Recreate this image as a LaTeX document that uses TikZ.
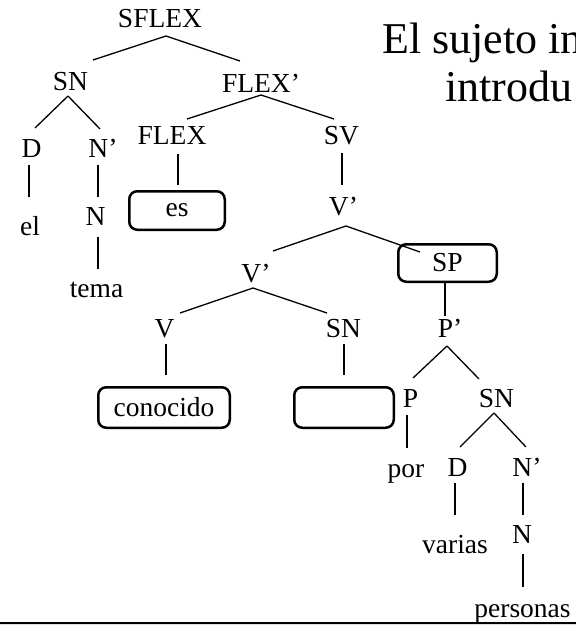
\documentclass[tikz,border=0pt]{standalone}
\usepackage{fontspec}
\setmainfont{Liberation Serif}
\newcommand\treefont{\fontsize{27.5}{33}\selectfont}
\newcommand\titlefont{\fontsize{44}{52}\selectfont}
\tikzset{
  lab/.style={inner sep=0pt, anchor=base, font=\treefont},
  wordbox/.style={draw, line width=2.5pt, rounded corners=8pt, inner sep=0pt, font=\treefont},
  edge/.style={line width=1.3pt},
}
\begin{document}
\begin{tikzpicture}[x=1pt,y=-1pt]
\useasboundingbox (0,0) rectangle (576,625);
\fill[white] (0,0) rectangle (576,625);

% title text (cut at the right edge)
\begin{scope}
\clip (0,0) rectangle (576,625);
\node[inner sep=0pt, anchor=base west, font=\titlefont] (t1) at (382,53) {El sujeto in};
\node[inner sep=0pt, anchor=base west, font=\titlefont] (t2) at (445,101) {introdu};
\end{scope}

% labels
\node[lab] (sflex) at (160,27) {SFLEX};
\node[lab] (sn1) at (70.5,90) {SN};
\node[lab] (flexp) at (261,92) {FLEX’};
\node[lab] (flex) at (172,144) {FLEX};
\node[lab] (sv) at (341.5,144) {SV};
\node[lab] (d1) at (31.5,157) {D};
\node[lab] (np1) at (103,157) {N’};
\node[lab] (el) at (30,235) {el};
\node[lab] (n1) at (95.5,225) {N};
\node[lab] (tema) at (96.5,297) {tema};
\node[wordbox, minimum width=95.5pt, minimum height=38.5pt] (es) at (177,210.5) {es};
\node[lab] (vp1) at (343.5,215) {V’};
\node[wordbox, minimum width=98.5pt, minimum height=37.5pt] (sp) at (447.5,263) {SP};
\node[lab] (vp2) at (256,282) {V’};
\node[lab] (v) at (164.5,337) {V};
\node[lab] (sn2) at (343.5,337) {SN};
\node[lab] (pp) at (450,337) {P’};
\node[wordbox, minimum width=131.5pt, minimum height=40.5pt] (conocido) at (164,407.5) {conocido};
\node[wordbox, minimum width=99.5pt, minimum height=40.5pt] (empty) at (344,407.5) {};
\node[lab] (p) at (410.5,407) {P};
\node[lab] (sn3) at (496.5,407) {SN};
\node[lab] (por) at (406,477) {por};
\node[lab] (d2) at (457.5,476) {D};
\node[lab] (np2) at (527,476) {N’};
\node[lab] (varias) at (455,553) {varias};
\node[lab] (n2) at (522,543) {N};
\node[lab] (personas) at (522.5,617) {personas};

% branches
\draw[edge] ([shift={(6,9)}]sflex.base) -- ([shift={(22.5,-30)}]sn1.base);
\draw[edge] ([shift={(6,9)}]sflex.base) -- ([shift={(-21,-31)}]flexp.base);
\draw[edge] ([shift={(-2.5,6)}]sn1.base) -- ([shift={(3.5,-29)}]d1.base);
\draw[edge] ([shift={(-2.5,6)}]sn1.base) -- ([shift={(-3,-28)}]np1.base);
\draw[edge] ([shift={(0,3)}]flexp.base) -- ([shift={(15,-25)}]flex.base);
\draw[edge] ([shift={(0,3)}]flexp.base) -- ([shift={(-7.5,-25)}]sv.base);
\draw[edge] ([shift={(-2.5,8)}]d1.base) -- ([shift={(-1,-38)}]el.base);
\draw[edge] ([shift={(-5,8)}]np1.base) -- ([shift={(2.5,-28)}]n1.base);
\draw[edge] ([shift={(6,10)}]flex.base) -- ([shift={(1,-25.5)}]es.center);
\draw[edge] ([shift={(0.5,9)}]sv.base) -- ([shift={(-1.5,-30)}]vp1.base);
\draw[edge] ([shift={(2.5,12)}]n1.base) -- ([shift={(1.5,-28)}]tema.base);
\draw[edge] ([shift={(2.5,11)}]vp1.base) -- ([shift={(17,-31)}]vp2.base);
\draw[edge] ([shift={(2.5,11)}]vp1.base) -- ([shift={(-27.5,-11)}]sp.center);
\draw[edge] ([shift={(-3,6)}]vp2.base) -- ([shift={(15.5,-24)}]v.base);
\draw[edge] ([shift={(-3,6)}]vp2.base) -- ([shift={(-16.5,-24)}]sn2.base);
\draw[edge] ([shift={(-2.5,0)}]sp.south) -- ([shift={(-5,-21)}]pp.base);
\draw[edge] ([shift={(1.5,7)}]v.base) -- ([shift={(2,-32.5)}]conocido.center);
\draw[edge] ([shift={(0.5,7)}]sn2.base) -- ([shift={(0,-32.5)}]empty.center);
\draw[edge] ([shift={(-3,9)}]pp.base) -- ([shift={(2.5,-29)}]p.base);
\draw[edge] ([shift={(-3,9)}]pp.base) -- ([shift={(-17.5,-28)}]sn3.base);
\draw[edge] ([shift={(-3.5,8)}]p.base) -- ([shift={(1,-29)}]por.base);
\draw[edge] ([shift={(-2.5,6)}]sn3.base) -- ([shift={(2.5,-29)}]d2.base);
\draw[edge] ([shift={(-2.5,6)}]sn3.base) -- ([shift={(-1,-29)}]np2.base);
\draw[edge] ([shift={(-2.5,7)}]d2.base) -- ([shift={(0,-38)}]varias.base);
\draw[edge] ([shift={(-4,7)}]np2.base) -- ([shift={(1,-28)}]n2.base);
\draw[edge] ([shift={(1,11)}]n2.base) -- ([shift={(0.5,-30)}]personas.base);

% bottom rule
\fill[gray!25] (0,623.5) rectangle (576,625);
\draw[line width=1.5pt] (0,623) -- (576,623);
\end{tikzpicture}
\end{document}
